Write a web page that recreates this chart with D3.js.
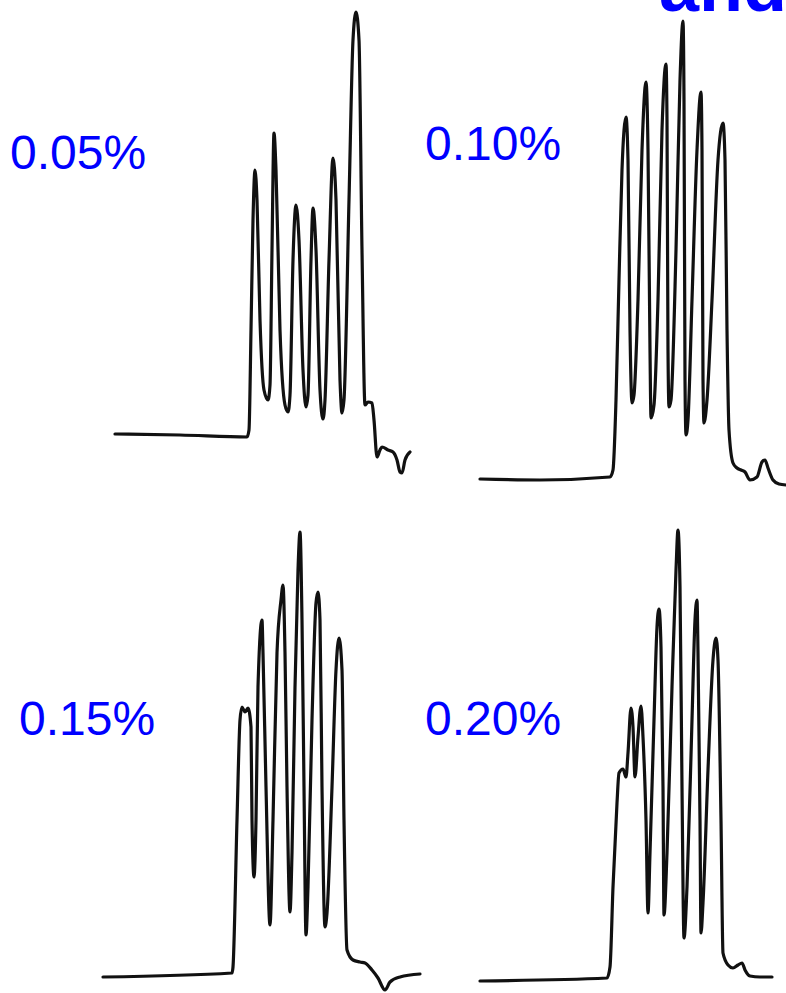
<!DOCTYPE html>
<html>
<head>
<meta charset="utf-8">
<script src="https://cdn.jsdelivr.net/npm/d3@7"></script>
<style>
  html, body { margin: 0; padding: 0; background: #fff; overflow: hidden; }
  svg { display: block; }
</style>
</head>
<body>
<div id="chart"></div>
<script>
// Concentration labels
const labels = ["0.05%", "0.10%", "0.15%", "0.20%"];

// Trace data: [time, signal] (arbitrary recorder units, signal 0 = baseline)
const trace005 = [
  [0,3],[65,2],[132,0],[134,7],[136,107],[138,217],[140,267],[142,237],[145,117],[149,47],
  [153,37],[155,52],[157,187],[159,304],[161,267],[165,107],[170,32],[173,25],[175,42],
  [178,177],[181,232],[184,197],[188,67],[191,30],[193,42],[196,177],[198,229],[201,187],
  [205,47],[208,18],[210,37],[214,177],[218,279],[221,237],[225,57],[227,24],[229,37],
  [234,237],[238,397],[241,425],[244,397],[247,187],[250,32],[253,35],[257,34],[259,17],
  [262,-20],[265,-13],[267,-10],[273,-13],[278,-15],[282,-23],[285,-35],[287,-36],[290,-23],[295,-15]
];
const trace010 = [
  [0,1],[60,0],[130,3],[133,10],[136,80],[139,200],[142,310],[146,363],[148,320],[150,150],
  [152,77],[154,85],[158,180],[162,330],[166,398],[168,330],[170,130],[171,62],[174,75],
  [178,180],[182,350],[186,416],[187,360],[188,130],[189,73],[191,80],[196,230],[200,400],
  [203,459],[204,380],[205,100],[206,45],[208,60],[212,180],[217,330],[221,388],[222,330],
  [223,100],[224,57],[227,80],[232,180],[238,320],[243,357],[245,320],[247,150],[249,50],
  [253,17],[257,12],[261,10],[265,8],[270,0],[277,3],[282,18],[285,20],[288,12],[293,0],
  [299,-4],[306,-5]
];
const trace015 = [
  [0,0],[129,4],[130,10],[134,157],[137,257],[139,270],[142,265],[145,269],[148,250],
  [149,157],[151,100],[153,157],[155,290],[159,357],[160,324],[163,190],[167,52],[170,157],
  [174,324],[178,377],[180,392],[182,324],[184,190],[187,65],[189,124],[192,290],[195,407],
  [197,445],[199,357],[201,190],[203,42],[205,90],[209,257],[213,374],[215,385],[217,357],
  [219,190],[222,50],[224,64],[229,190],[233,307],[236,339],[239,307],[241,157],[244,27],
  [250,17],[257,15],[262,14],[269,7],[275,-1],[282,-13],[287,-5],[297,0],[317,3]
];
const trace020 = [
  [0,0],[127,3],[130,14],[133,94],[137,178],[139,208],[143,212],[146,204],[148,228],
  [151,273],[153,254],[155,204],[158,244],[161,275],[163,244],[166,161],[168,68],[170,128],
  [174,261],[177,354],[179,372],[181,334],[183,194],[184,66],[187,128],[192,294],[196,411],
  [198,451],[200,394],[202,194],[204,43],[207,94],[212,261],[215,361],[217,381],[218,328],
  [220,161],[221,48],[223,78],[228,211],[233,321],[236,343],[238,321],[241,161],[243,28],
  [248,16],[253,13],[258,16],[262,18],[265,11],[270,5],[280,4],[292,4]
];
const traces = [trace005, trace010, trace015, trace020];

const W = 786, H = 993;
const svg = d3.select("#chart").append("svg").attr("width", W).attr("height", H);

// Panel layout (origin of each trace: left edge / baseline)
const panels = [
  { x0: 115, y0: 437, lx: 10,  ly: 169 },
  { x0: 480, y0: 480, lx: 425, ly: 160 },
  { x0: 103, y0: 977, lx: 19,  ly: 735 },
  { x0: 480, y0: 981, lx: 425, ly: 735 }
];

panels.forEach((p, i) => {
  const x = d3.scaleLinear().domain([0, 320]).range([p.x0, p.x0 + 320]);
  const y = d3.scaleLinear().domain([0, 460]).range([p.y0, p.y0 - 460]);
  const line = d3.line()
    .x(d => x(d[0]))
    .y(d => y(d[1]))
    .curve(d3.curveMonotoneX);
  svg.append("path")
    .datum(traces[i])
    .attr("d", line)
    .attr("fill", "none")
    .attr("stroke", "#111")
    .attr("stroke-width", 3.2)
    .attr("stroke-linejoin", "round")
    .attr("stroke-linecap", "round");
  svg.append("text")
    .attr("x", p.lx)
    .attr("y", p.ly)
    .attr("font-family", "'Liberation Sans', Arial, sans-serif")
    .attr("font-size", 48)
    .attr("fill", "#0000ff")
    .text(labels[i]);
});

// Clipped title fragment at the top (cut off in the reference as well)
svg.append("text")
  .attr("x", 659)
  .attr("y", 11)
  .attr("font-family", "'Liberation Sans', Arial, sans-serif")
  .attr("font-weight", "bold")
  .attr("font-size", 72)
  .attr("fill", "#0000ff")
  .text("and");
</script>
</body>
</html>
